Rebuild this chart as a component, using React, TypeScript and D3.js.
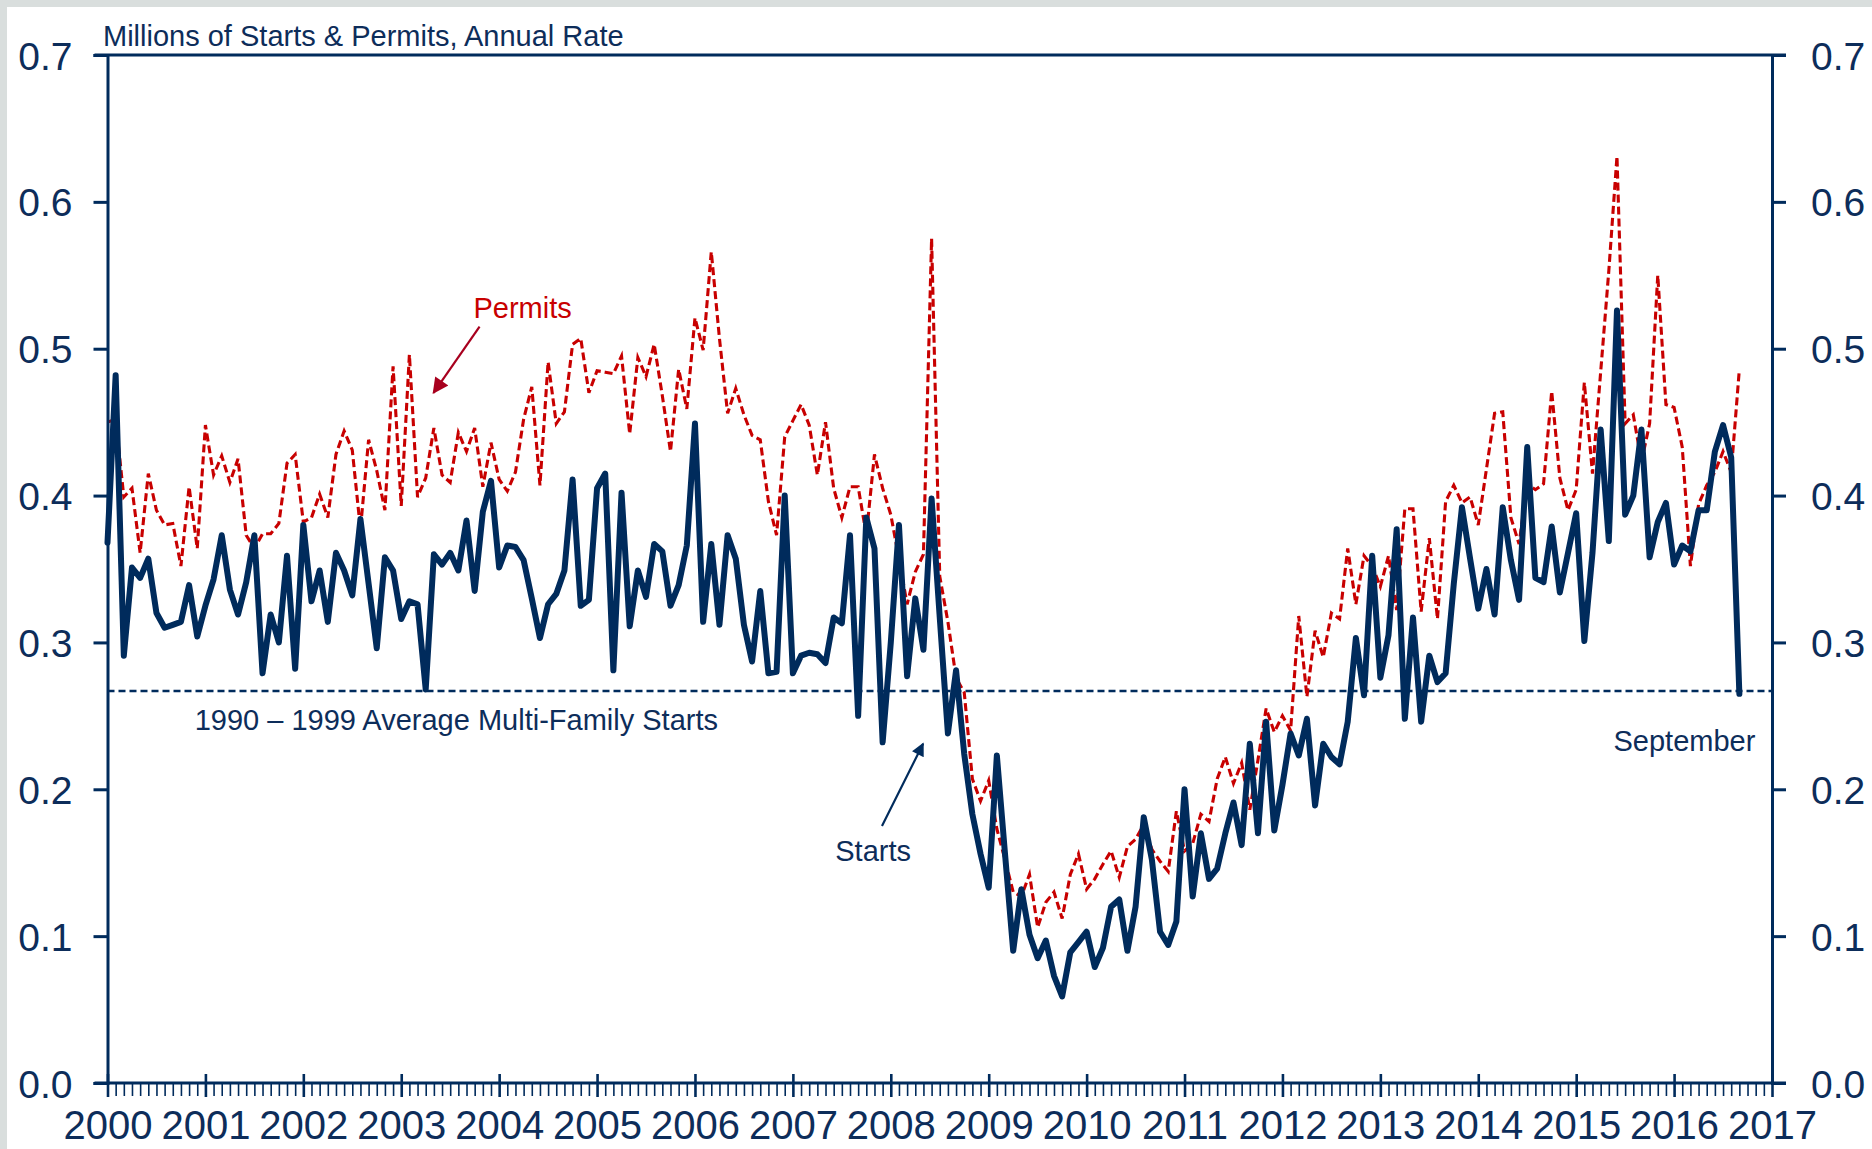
import React, { useEffect, useRef } from 'react';
import * as d3 from 'd3';

// monthly, Jan 2000 .. Sep 2016, millions of units (annual rate)
const firstYear = 2000;
const lastYear = 2017;

const starts = [
  0.368, 0.482, 0.291, 0.351, 0.344, 0.357, 0.320, 0.310, 0.312, 0.314, 0.339, 0.304, // 2000
  0.325, 0.343, 0.373, 0.336, 0.319, 0.341, 0.373, 0.279, 0.319, 0.300, 0.359, 0.282, // 2001
  0.380, 0.328, 0.349, 0.314, 0.361, 0.349, 0.332, 0.384, 0.340, 0.296, 0.358, 0.349, // 2002
  0.316, 0.328, 0.326, 0.268, 0.360, 0.353, 0.361, 0.349, 0.383, 0.335, 0.389, 0.410, // 2003
  0.351, 0.366, 0.365, 0.356, 0.330, 0.303, 0.326, 0.333, 0.349, 0.411, 0.325, 0.329, // 2004
  0.405, 0.415, 0.281, 0.402, 0.311, 0.349, 0.331, 0.367, 0.362, 0.325, 0.339, 0.366, // 2005
  0.449, 0.314, 0.367, 0.312, 0.373, 0.357, 0.312, 0.287, 0.335, 0.279, 0.280, 0.400, // 2006
  0.279, 0.291, 0.293, 0.292, 0.286, 0.317, 0.313, 0.373, 0.250, 0.385, 0.364, 0.232, // 2007
  0.300, 0.380, 0.277, 0.330, 0.295, 0.398, 0.317, 0.238, 0.281, 0.224, 0.183, 0.156, // 2008
  0.133, 0.223, 0.156, 0.090, 0.132, 0.101, 0.085, 0.097, 0.073, 0.059, 0.089, 0.096, // 2009
  0.103, 0.079, 0.092, 0.120, 0.125, 0.090, 0.120, 0.181, 0.152, 0.103, 0.094, 0.110, // 2010
  0.200, 0.127, 0.170, 0.139, 0.146, 0.170, 0.191, 0.162, 0.231, 0.170, 0.246, 0.172, // 2011
  0.203, 0.238, 0.223, 0.248, 0.189, 0.231, 0.222, 0.217, 0.246, 0.303, 0.264, 0.359, // 2012
  0.276, 0.305, 0.377, 0.248, 0.317, 0.246, 0.291, 0.273, 0.279, 0.340, 0.392, 0.357, // 2013
  0.323, 0.350, 0.319, 0.392, 0.356, 0.329, 0.433, 0.344, 0.341, 0.379, 0.334, 0.361, // 2014
  0.388, 0.301, 0.361, 0.445, 0.369, 0.526, 0.387, 0.400, 0.445, 0.358, 0.382, 0.395, // 2015
  0.353, 0.366, 0.362, 0.390, 0.390, 0.430, 0.448, 0.426, 0.265,                      // 2016
];

const permits = [
  0.450, 0.452, 0.399, 0.405, 0.361, 0.415, 0.390, 0.380, 0.381, 0.352, 0.406, 0.364, // 2000
  0.448, 0.414, 0.427, 0.409, 0.425, 0.373, 0.364, 0.374, 0.374, 0.381, 0.422, 0.428, // 2001
  0.382, 0.385, 0.401, 0.385, 0.428, 0.444, 0.431, 0.377, 0.438, 0.417, 0.390, 0.488, // 2002
  0.393, 0.496, 0.399, 0.412, 0.446, 0.414, 0.409, 0.443, 0.430, 0.446, 0.406, 0.436, // 2003
  0.411, 0.403, 0.416, 0.452, 0.474, 0.407, 0.491, 0.449, 0.457, 0.503, 0.507, 0.470, // 2004
  0.485, 0.484, 0.483, 0.495, 0.442, 0.494, 0.481, 0.503, 0.468, 0.430, 0.486, 0.459, // 2005
  0.521, 0.499, 0.566, 0.507, 0.456, 0.473, 0.455, 0.441, 0.438, 0.396, 0.373, 0.440, // 2006
  0.451, 0.462, 0.448, 0.414, 0.450, 0.405, 0.385, 0.406, 0.406, 0.373, 0.428, 0.405, // 2007
  0.387, 0.357, 0.326, 0.348, 0.360, 0.575, 0.345, 0.314, 0.276, 0.266, 0.207, 0.192, // 2008
  0.206, 0.173, 0.152, 0.130, 0.127, 0.142, 0.106, 0.123, 0.130, 0.112, 0.142, 0.156, // 2009
  0.132, 0.139, 0.149, 0.158, 0.140, 0.161, 0.166, 0.176, 0.159, 0.151, 0.144, 0.185, // 2010
  0.158, 0.163, 0.183, 0.178, 0.207, 0.222, 0.204, 0.218, 0.186, 0.220, 0.255, 0.239, // 2011
  0.250, 0.240, 0.318, 0.263, 0.308, 0.290, 0.320, 0.316, 0.364, 0.326, 0.359, 0.352, // 2012
  0.338, 0.359, 0.322, 0.391, 0.391, 0.321, 0.371, 0.316, 0.396, 0.407, 0.395, 0.399, // 2013
  0.380, 0.418, 0.456, 0.457, 0.385, 0.367, 0.408, 0.404, 0.408, 0.471, 0.412, 0.390, // 2014
  0.404, 0.477, 0.415, 0.484, 0.553, 0.631, 0.449, 0.455, 0.423, 0.449, 0.550, 0.462, // 2015
  0.460, 0.433, 0.352, 0.394, 0.407, 0.416, 0.430, 0.416, 0.486,                      // 2016
];

const avgStarts9099 = 0.267;

const yTicks = [0, 0.1, 0.2, 0.3, 0.4, 0.5, 0.6, 0.7];
const yearLabels = ['2000', '2001', '2002', '2003', '2004', '2005', '2006', '2007', '2008',
  '2009', '2010', '2011', '2012', '2013', '2014', '2015', '2016', '2017'];

const W = 1872, H = 1149;
const NAVY = '#002b5c';
const TEXT = '#0d2d5a';
const RED = '#c80000';
const FONT = '"Liberation Sans", Arial, Helvetica, sans-serif';

const App = () => {
  const axRef = useRef(null);

  const x = d3.scaleLinear().domain([firstYear, lastYear]).range([107.5, 1772]);
  const y = d3.scaleLinear().domain([0, 0.7]).range([1083, 55]);
  const t = (i) => firstYear + i / 12;

  const line = d3.line().x((d, i) => x(t(i))).y(d => y(d));

  useEffect(() => {
    document.body.style.margin = '0';
    const g = d3.select(axRef.current);
    g.selectAll('*').remove();

    // left axis
    const left = g.append('g')
      .attr('transform', `translate(${x(firstYear)},0)`)
      .call(d3.axisLeft(y).tickValues(yTicks).tickSize(14).tickPadding(21).tickFormat(d3.format('.1f')));
    // right axis
    const right = g.append('g')
      .attr('transform', `translate(${x(lastYear)},0)`)
      .call(d3.axisRight(y).tickValues(yTicks).tickSize(14).tickPadding(25).tickFormat(d3.format('.1f')));

    [left, right].forEach(a => {
      a.select('.domain').attr('stroke', NAVY).attr('stroke-width', 3);
      a.selectAll('.tick line').attr('stroke', NAVY).attr('stroke-width', 3);
      a.selectAll('.tick text')
        .attr('fill', TEXT).attr('font-size', 39).attr('font-family', FONT)
        .attr('dy', '0.36em');
    });

    // monthly minor ticks on the bottom axis
    const months = d3.range(0, (lastYear - firstYear) * 12 + 1).filter(i => i % 12 !== 0).map(t);
    const bottom = g.append('g')
      .attr('transform', `translate(0,${y(0)})`)
      .call(d3.axisBottom(x).tickValues(months).tickSize(13).tickFormat(() => ''));
    bottom.select('.domain').remove();
    bottom.selectAll('.tick line').attr('stroke', NAVY).attr('stroke-width', 1.6);

    // major (year) ticks + labels
    const major = g.append('g')
      .attr('transform', `translate(0,${y(0)})`)
      .call(d3.axisBottom(x).tickValues(yearLabels.map(Number)).tickSize(14).tickPadding(14).tickFormat(d3.format('d')));
    major.select('.domain').remove();
    major.selectAll('.tick line').attr('stroke', NAVY).attr('stroke-width', 2.6).attr('y1', -9);
    major.selectAll('.tick text')
      .attr('fill', TEXT).attr('font-size', 40).attr('font-family', FONT);

    // frame: bottom and top lines extend past both axes
    g.append('line')
      .attr('x1', x(firstYear) - 13).attr('x2', x(lastYear) + 14)
      .attr('y1', y(0)).attr('y2', y(0))
      .attr('stroke', NAVY).attr('stroke-width', 3);
    g.append('line')
      .attr('x1', x(firstYear) - 13).attr('x2', x(lastYear) + 14)
      .attr('y1', y(0.7)).attr('y2', y(0.7))
      .attr('stroke', NAVY).attr('stroke-width', 3);
  }, []);

  // annotation anchors in data coordinates
  const permArrow = { x1: 2003.80, y1: 0.515, x2: 2003.33, y2: 0.470 };
  const startArrow = { x1: 2007.91, y1: 0.175, x2: 2008.33, y2: 0.231 };

  return (
    <svg width={W} height={H} style={{ position: 'absolute', left: 0, top: 0, display: 'block' }}
      fontFamily={FONT}>
      <defs>
        <marker id="arrRed" viewBox="0 0 10 10" refX="9" refY="5" markerWidth="22" markerHeight="16"
          markerUnits="userSpaceOnUse" orient="auto">
          <path d="M0,0 L10,5 L0,10 Z" fill="#a8001e" />
        </marker>
        <marker id="arrNavy" viewBox="0 0 10 10" refX="9" refY="5" markerWidth="19" markerHeight="13"
          markerUnits="userSpaceOnUse" orient="auto">
          <path d="M0,0 L10,5 L0,10 Z" fill={NAVY} />
        </marker>
      </defs>

      <rect x={0} y={0} width={W} height={H} fill="#d9dedd" />
      <rect x={7} y={7} width={W - 7} height={H - 7} fill="#ffffff" />

      <text x={103} y={46} fontSize={29} fill={TEXT}>Millions of Starts &amp; Permits, Annual Rate</text>

      {/* 1990-1999 average */}
      <line x1={x(firstYear)} x2={x(lastYear)} y1={y(avgStarts9099)} y2={y(avgStarts9099)}
        stroke={NAVY} strokeWidth={2.5} strokeDasharray="7,4" />

      <path d={line(permits)} fill="none" stroke={RED} strokeWidth={3.1} strokeDasharray="8,4" />
      <path d={line(starts)} fill="none" stroke={NAVY} strokeWidth={6} strokeLinejoin="round" strokeLinecap="round" />

      <g ref={axRef} />

      {/* annotations */}
      <text x={x(2004.24)} y={y(0.521)} fontSize={29} fill={RED} textAnchor="middle">Permits</text>
      <line x1={x(permArrow.x1)} y1={y(permArrow.y1)} x2={x(permArrow.x2)} y2={y(permArrow.y2)}
        stroke="#a8001e" strokeWidth={2.2} markerEnd="url(#arrRed)" />

      <text x={x(2007.82)} y={y(0.151)} fontSize={29} fill={TEXT} textAnchor="middle">Starts</text>
      <line x1={x(startArrow.x1)} y1={y(startArrow.y1)} x2={x(startArrow.x2)} y2={y(startArrow.y2)}
        stroke={NAVY} strokeWidth={2.2} markerEnd="url(#arrNavy)" />

      <text x={x(2000.89)} y={y(0.2405)} fontSize={29} fill={TEXT}>1990 – 1999 Average Multi-Family Starts</text>
      <text x={x(2016.83)} y={y(0.226)} fontSize={29} fill={TEXT} textAnchor="end">September</text>
    </svg>
  );
};

export default App;
